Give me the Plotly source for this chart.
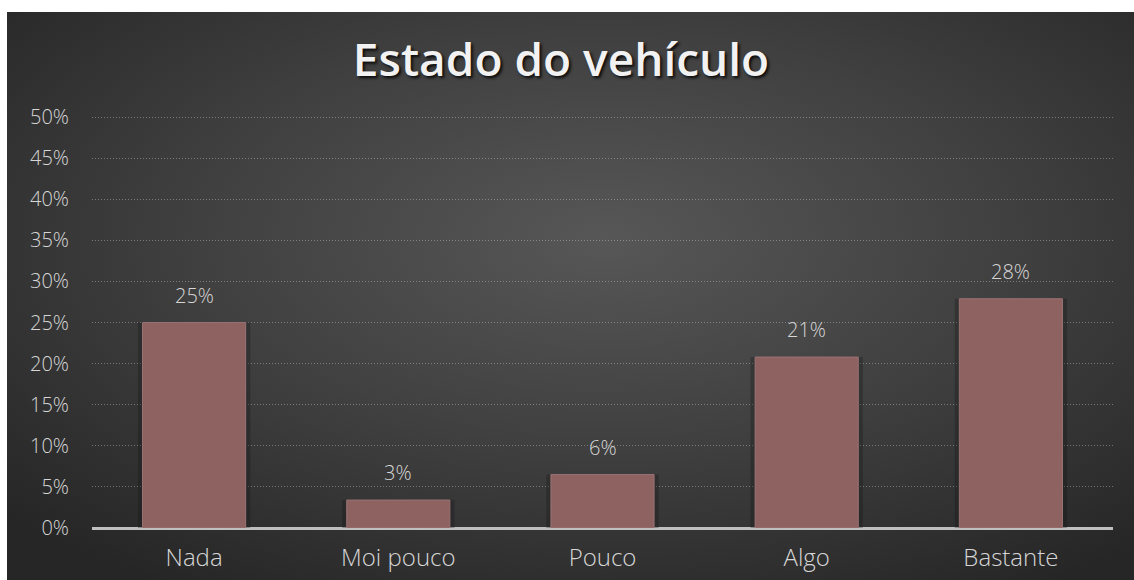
import base64
import plotly.graph_objects as go

# Survey results: perceived vehicle condition
categories = ["Nada", "Moi pouco", "Pouco", "Algo", "Bastante"]
shares = [0.250, 0.034, 0.065, 0.208, 0.279]
y_ticks = [0, 0.05, 0.10, 0.15, 0.20, 0.25, 0.30, 0.35, 0.40, 0.45, 0.50]
y_tick_labels = ["0%", "5%", "10%", "15%", "20%", "25%", "30%", "35%", "40%", "45%", "50%"]
title_text = "Estado do vehículo"

W, H = 1134, 580
# plot-area margins in pixels
ML, MR, MT, MB = 92, 21, 113, 52
plot_w = W - ML - MR
plot_h = H - MT - MB


def px_to_paper_x(px):
    return (px - ML) / plot_w


def px_to_paper_y(py):
    return (H - MB - py) / plot_h


# radial-gradient backdrop for the chart panel
svg = f"""<svg xmlns='http://www.w3.org/2000/svg' width='{W}' height='{H}' viewBox='0 0 {W} {H}' preserveAspectRatio='none'>
<defs>
<radialGradient id='g' cx='0.53' cy='0.40' r='0.72' gradientUnits='objectBoundingBox'>
<stop offset='0' stop-color='#575757'/>
<stop offset='0.5' stop-color='#404040'/>
<stop offset='1' stop-color='#262626'/>
</radialGradient>
</defs>
<rect width='{W}' height='{H}' fill='url(#g)'/>
</svg>"""
bg_uri = "data:image/svg+xml;base64," + base64.b64encode(svg.encode("utf-8")).decode("ascii")

text_color = "#d6d6d6"
font_family = "'Open Sans', sans-serif"

fig = go.Figure()

# soft shadow behind each bar
fig.add_trace(go.Bar(
    x=categories, y=shares,
    width=0.55,
    marker=dict(color="rgba(20,20,20,0.30)", line=dict(width=0)),
    hoverinfo="skip",
    showlegend=False,
))

fig.add_trace(go.Bar(
    x=categories, y=shares,
    width=0.505,
    marker=dict(color="#8f6262", line=dict(color="#9a7373", width=1)),
    showlegend=False,
))

# value labels above bars
for cat, val in zip(categories, shares):
    fig.add_annotation(
        x=cat, y=val, xref="x", yref="y",
        text=f"{val:.0%}",
        showarrow=False,
        yanchor="bottom",
        yshift=12,
        font=dict(family=font_family, size=20, color=text_color, weight=300),
    )

panel_x0 = px_to_paper_x(7)
panel_x1 = px_to_paper_x(W)
panel_y1 = px_to_paper_y(12)
panel_y0 = px_to_paper_y(H)

fig.add_layout_image(dict(
    source=bg_uri,
    xref="paper", yref="paper",
    x=panel_x0, y=panel_y1,
    sizex=panel_x1 - panel_x0, sizey=panel_y1 - panel_y0,
    xanchor="left", yanchor="top",
    sizing="stretch",
    layer="below",
))

fig.update_layout(
    width=W, height=H,
    margin=dict(l=ML, r=MR, t=MT, b=MB, pad=0, autoexpand=False),
    paper_bgcolor="#ffffff",
    plot_bgcolor="rgba(0,0,0,0)",
    barmode="overlay",
    title=dict(
        text=title_text,
        x=561 / W, xref="container", xanchor="center",
        y=1 - 60 / H, yref="container", yanchor="middle",
        font=dict(family=font_family, size=46, color="#f2f2f2", weight=600,
                  shadow="2px 2px 3px rgba(0,0,0,0.85)"),
    ),
    xaxis=dict(
        type="category",
        automargin=False,
        showgrid=False,
        showline=False,
        zeroline=False,
        ticks="",
        tickfont=dict(family=font_family, size=24, color=text_color, weight=300),
        ticklabelstandoff=13,
    ),
    yaxis=dict(
        range=[0, 0.505],
        automargin=False,
        tickvals=y_ticks,
        ticktext=y_tick_labels,
        tickfont=dict(family=font_family, size=20, color=text_color, weight=300),
        showgrid=True,
        gridcolor="rgba(200,200,200,0.45)",
        griddash="1px,2px",
        gridwidth=1,
        zeroline=True,
        zerolinecolor="#bfbfbf",
        zerolinewidth=3,
        showline=False,
        ticks="",
        ticklabelstandoff=22,
    ),
)

fig.write_html("out.html")
